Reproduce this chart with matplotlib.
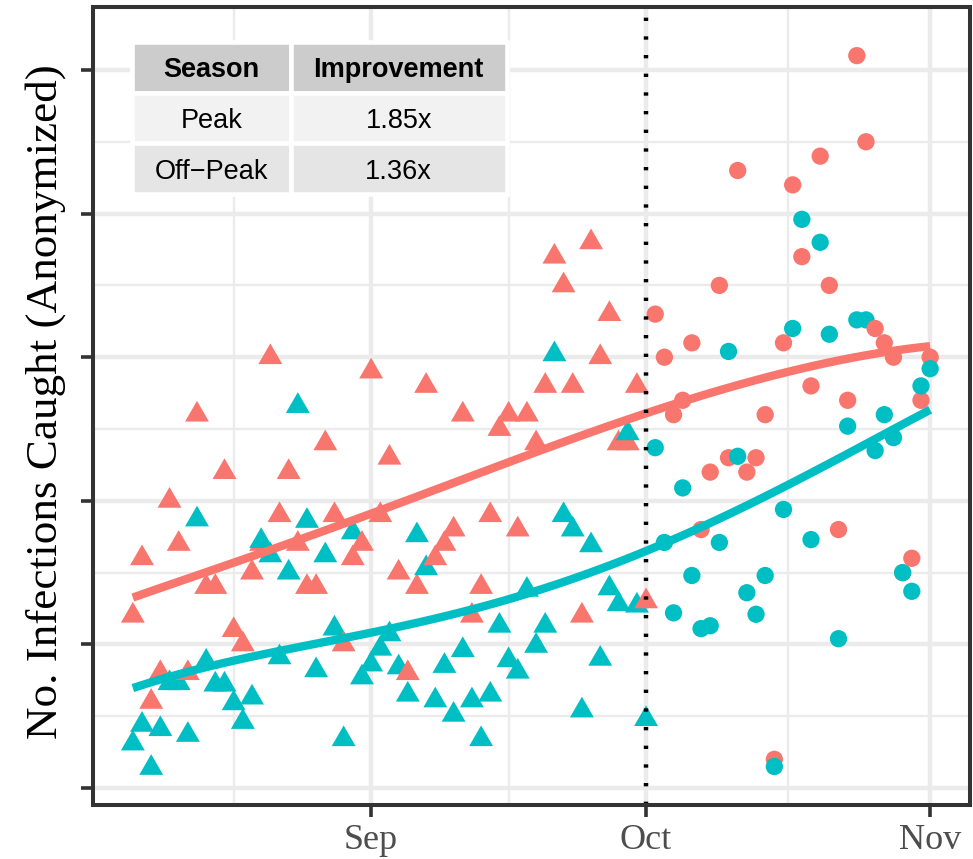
import numpy as np
import pandas as pd
import matplotlib
matplotlib.use("Agg")
import matplotlib.pyplot as plt
import matplotlib.dates as mdates
from matplotlib.path import Path
from matplotlib.ticker import FixedLocator, NullFormatter

# ---- data -------------------------------------------------------------
first_day = "2021-08-06"          # first observation
n_peak_days = 57                  # Aug 6 .. Oct 1  (peak season, triangles)
n_off_days = 31                   # Oct 2 .. Nov 1  (off-peak, circles)
season_split = "2021-10-01"

# infections caught per day with the new model
new_model_peak = [12, 16, 6, 8, 20, 17, 8, 26, 14, 14, 22, 11, 10, 15, 17, 30,
                  19, 22, 17, 14, 14, 24, 19, 10, 16, 17, 29, 19, 23, 15, 8, 14,
                  28, 16, 17, 18, 26, 12, 14, 19, 25, 26, 18, 26, 24, 28, 37, 35,
                  28, 12, 38, 30, 33, 24, 24, 28, 13]
new_model_offpeak = [33, 30, 26, 27, 31, 18, 22, 35, 23, 43, 22, 23, 26, 2, 31,
                     42, 37, 28, 44, 35, 18, 27, 51, 45, 32, 31, 30, 15, 16, 27, 30]

# infections caught per day with the baseline
baseline_peak = [3.1, 4.4, 1.4, 4.1, 7.3, 7.3, 3.7, 18.7, 8.8, 7.2, 7.2, 5.9, 4.6,
                 6.3, 17.2, 16.2, 9.1, 15.0, 26.6, 18.6, 8.2, 16.2, 11.1, 3.4,
                 17.8, 7.7, 8.6, 9.7, 10.7, 8.4, 6.5, 17.6, 15.3, 6.1, 8.5, 5.1,
                 9.6, 6.1, 3.4, 6.5, 11.3, 8.9, 8.1, 13.8, 9.9, 11.3, 30.2, 19.0,
                 18.0, 5.4, 16.9, 9.0, 13.9, 12.8, 24.7, 12.7, 4.8]
baseline_offpeak = [23.7, 17.1, 12.2, 20.9, 14.8, 11.1, 11.3, 17.1, 30.4, 23.1,
                    13.6, 12.1, 14.8, 1.5, 19.4, 32.0, 39.6, 17.3, 38.0, 31.6,
                    10.4, 25.2, 32.6, 32.6, 23.5, 26.0, 24.4, 15.0, 13.7, 28.0,
                    29.2]

table_header = ["Season", "Improvement"]
table_seasons = ["Peak", "Off\u2212Peak"]
table_improvements = ["1.85x", "1.36x"]

y_ticks = [0, 10, 20, 30, 40, 50]
y_label = "No. Infections Caught (Anonymized)"

# ---- styling -----------------------------------------------------------
RED = "#F8766D"
TEAL = "#00BFC4"
GRID = "#EBEBEB"
FRAME = "#333333"

days = pd.date_range(first_day, periods=n_peak_days + n_off_days)
xnum = mdates.date2num(days.to_pydatetime())
x_peak, x_off = xnum[:n_peak_days], xnum[n_peak_days:]

new_all = np.array(new_model_peak + new_model_offpeak, dtype=float)
base_all = np.array(baseline_peak + baseline_offpeak, dtype=float)


def local_linear(x, y, grid, bandwidth=22.0):
    """Gaussian-weighted local linear smoother (bandwidth in days)."""
    fit = []
    for g in grid:
        w = np.exp(-0.5 * ((x - g) / bandwidth) ** 2)
        X = np.column_stack([np.ones_like(x), x - g])
        sw = np.sqrt(w)
        beta = np.linalg.lstsq(X * sw[:, None], y * sw, rcond=None)[0]
        fit.append(beta[0])
    return np.array(fit)


# triangle centred on its centroid
tri = Path([(0, 1), (-0.8660254, -0.5), (0.8660254, -0.5), (0, 1)],
           [Path.MOVETO, Path.LINETO, Path.LINETO, Path.CLOSEPOLY])

fig = plt.figure(figsize=(9.73, 8.59), dpi=100)
ax = fig.add_axes([93 / 973, 1 - 805 / 859, 877 / 973, 798.5 / 859])


def interleave(xs, a, b):
    xx = np.repeat(xs, 2)
    yy = np.column_stack([a, b]).ravel()
    cc = [RED, TEAL] * len(xs)
    return xx, yy, cc


# points, day by day (new model first, baseline on top)
xx, yy, cc = interleave(x_peak, new_model_peak, baseline_peak)
ax.scatter(xx, yy, c=cc, marker=tri, s=395, linewidths=0, zorder=3)
xx, yy, cc = interleave(x_off, new_model_offpeak, baseline_offpeak)
ax.scatter(xx, yy, c=cc, marker="o", s=155, linewidths=0, zorder=3)

# smooth trends
grid = np.linspace(xnum.min(), xnum.max(), 80)
ax.plot(grid, local_linear(xnum, new_all, grid), color=RED, lw=6,
        solid_capstyle="butt", zorder=4)
ax.plot(grid, local_linear(xnum, base_all, grid), color=TEAL, lw=6,
        solid_capstyle="butt", zorder=4)

# season boundary
split = mdates.date2num(pd.Timestamp(season_split).to_pydatetime())
ax.axvline(split, color="black", lw=3.2, linestyle=(0, (0.75, 3.45)),
           dash_capstyle="butt", zorder=5)

# scales
span = xnum.max() - xnum.min()
ax.set_xlim(xnum.min() - 0.05 * span, xnum.max() + 0.05 * span)
ax.set_ylim(-1.18, 54.42)

ax.xaxis.set_major_locator(mdates.MonthLocator())
ax.xaxis.set_major_formatter(mdates.DateFormatter("%b"))
lo, hi = ax.get_xlim()
majors = [m for m in ax.xaxis.get_major_locator()() if lo <= m <= hi]
step = majors[1] - majors[0]
ext = [majors[0] - step] + list(majors)
x_minor = [(a + b) / 2 for a, b in zip(ext[:-1], ext[1:])]
ax.xaxis.set_minor_locator(FixedLocator(x_minor))

ax.set_yticks(y_ticks)
ax.yaxis.set_major_formatter(NullFormatter())
ax.yaxis.set_minor_locator(FixedLocator([v + 5 for v in y_ticks[:-1]]))

ax.grid(which="major", color=GRID, lw=3.2, zorder=0)
ax.grid(which="minor", color=GRID, lw=1.7, zorder=0)
ax.set_axisbelow(True)

for sp in ax.spines.values():
    sp.set_color(FRAME)
    sp.set_linewidth(2.9)
    sp.set_zorder(6)

ax.tick_params(which="major", length=8.5, width=2.6, color=FRAME,
               labelsize=26, labelcolor="#4D4D4D", pad=5)
ax.tick_params(which="minor", length=0)
for lab in ax.get_xticklabels():
    lab.set_family("Liberation Serif")

ax.set_ylabel(y_label, family="Liberation Serif", fontsize=32.5, color="black",
              va="center")
ax.yaxis.set_label_coords(-0.0547, 0.505)

# summary table
col_w = [158.5, 216.5]
tbl = ax.table(cellText=[[s, v] for s, v in zip(table_seasons, table_improvements)],
               colLabels=table_header, colWidths=col_w, cellLoc="center",
               bbox=[(132 - 93) / 877, (805 - 194) / 798.5, 375 / 877, 152 / 798.5],
               zorder=7)
tbl.auto_set_font_size(False)
fills = {0: "#CCCCCC", 1: "#F2F2F2", 2: "#E5E5E5"}
for (r, c), cell in tbl.get_celld().items():
    cell.set_edgecolor("white")
    cell.set_linewidth(3.3)
    cell.set_facecolor(fills[r])
    t = cell.get_text()
    t.set_family("Liberation Sans")
    t.set_fontsize(19.5)
    t.set_color("black")
    t.set_va("center_baseline")
    if r == 0:
        t.set_weight("bold")

fig.savefig("out.png", dpi=100)
